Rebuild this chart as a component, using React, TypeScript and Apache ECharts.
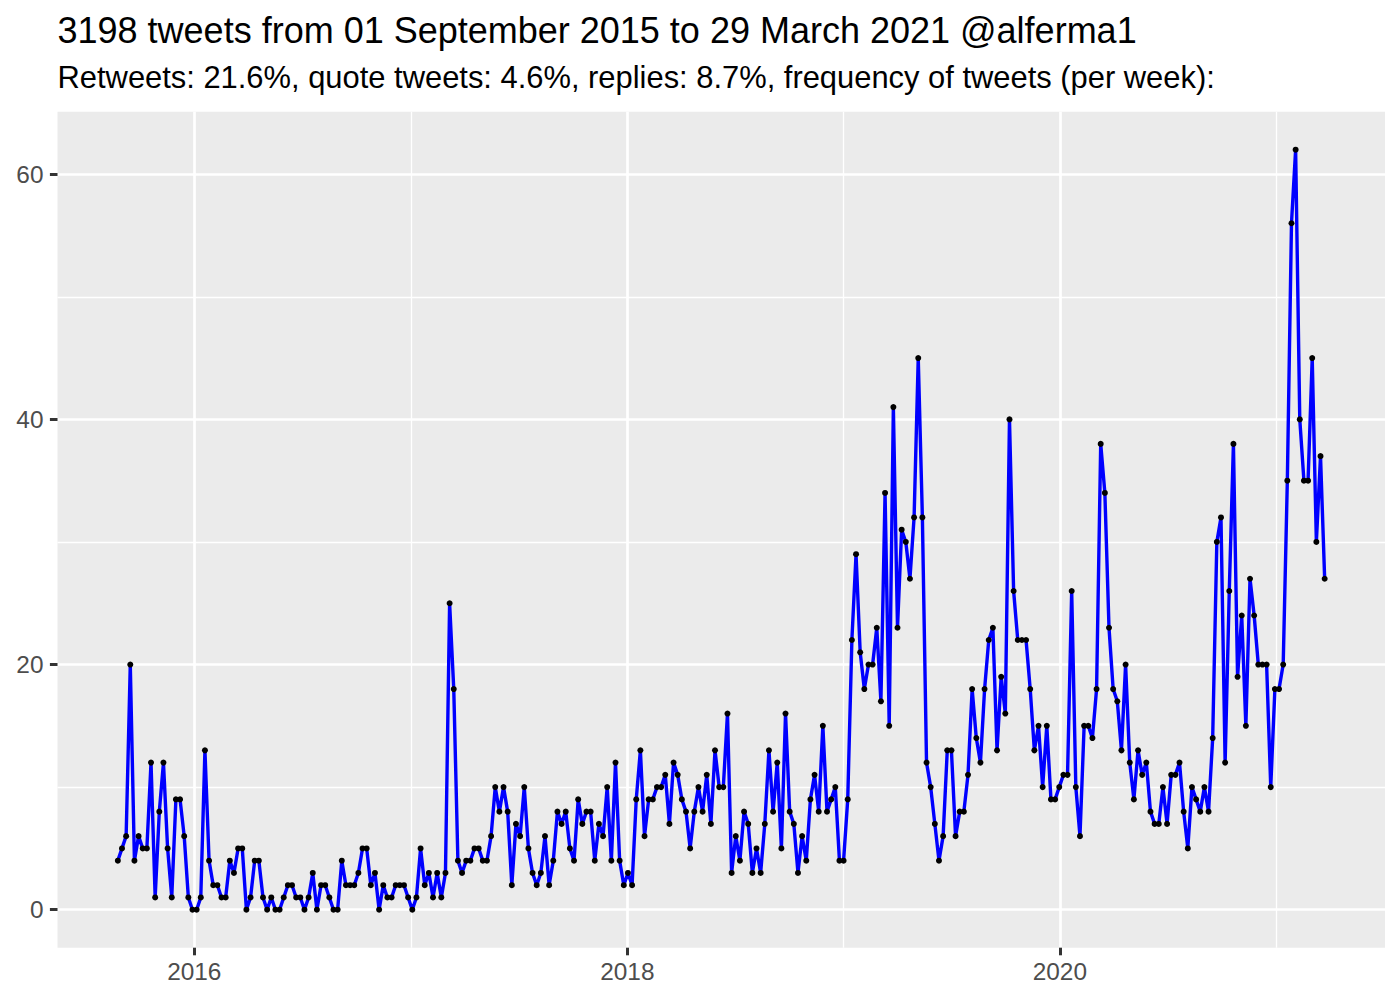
import React, { useEffect, useRef } from "react";
import * as echarts from "echarts";

// ---- data ----
const START_DATE_UTC = Date.UTC(2015, 7, 25); // first weekly bin
const WEEK_MS = 7 * 24 * 3600 * 1000;

const tweetsPerWeek: number[] = [
  4, 5, 6, 20, 4, 6, 5, 5, 12, 1,
  8, 12, 5, 1, 9, 9, 6, 1, 0, 0,
  1, 13, 4, 2, 2, 1, 1, 4, 3, 5,
  5, 0, 1, 4, 4, 1, 0, 1, 0, 0,
  1, 2, 2, 1, 1, 0, 1, 3, 0, 2,
  2, 1, 0, 0, 4, 2, 2, 2, 3, 5,
  5, 2, 3, 0, 2, 1, 1, 2, 2, 2,
  1, 0, 1, 5, 2, 3, 1, 3, 1, 3,
  25, 18, 4, 3, 4, 4, 5, 5, 4, 4,
  6, 10, 8, 10, 8, 2, 7, 6, 10, 5,
  3, 2, 3, 6, 2, 4, 8, 7, 8, 5,
  4, 9, 7, 8, 8, 4, 7, 6, 10, 4,
  12, 4, 2, 3, 2, 9, 13, 6, 9, 9,
  10, 10, 11, 7, 12, 11, 9, 8, 5, 8,
  10, 8, 11, 7, 13, 10, 10, 16, 3, 6,
  4, 8, 7, 3, 5, 3, 7, 13, 8, 12,
  5, 16, 8, 7, 3, 6, 4, 9, 11, 8,
  15, 8, 9, 10, 4, 4, 9, 22, 29, 21,
  18, 20, 20, 23, 17, 34, 15, 41, 23, 31,
  30, 27, 32, 45, 32, 12, 10, 7, 4, 6,
  13, 13, 6, 8, 8, 11, 18, 14, 12, 18,
  22, 23, 13, 19, 16, 40, 26, 22, 22, 22,
  18, 13, 15, 10, 15, 9, 9, 10, 11, 11,
  26, 10, 6, 15, 15, 14, 18, 38, 34, 23,
  18, 17, 13, 20, 12, 9, 13, 11, 12, 8,
  7, 7, 10, 7, 11, 11, 12, 8, 5, 10,
  9, 8, 10, 8, 14, 30, 32, 12, 26, 38,
  19, 24, 15, 27, 24, 20, 20, 20, 10, 18,
  18, 20, 35, 56, 62, 40, 35, 35, 45, 30,
  37, 27,
];

const xMajorYears = [2016, 2018, 2020];
const xMinorYears = [2017, 2019, 2021];
const yMajorTicks = [0, 20, 40, 60];
const yMinorTicks = [10, 30, 50];

const titleText = "3198 tweets from 01 September 2015 to 29 March 2021 @alferma1";
const subtitleText =
  "Retweets: 21.6%, quote tweets: 4.6%, replies: 8.7%, frequency of tweets (per week):";

const FONT = "'Liberation Sans', Arial, Helvetica, sans-serif";

export default function App() {
  const ref = useRef<HTMLDivElement | null>(null);

  useEffect(() => {
    if (!ref.current) return;
    const chart = echarts.init(ref.current, undefined, { renderer: "svg" });

    const points = tweetsPerWeek.map((v, i) => [START_DATE_UTC + i * WEEK_MS, v]);
    const xFirst = points[0][0] as number;
    const xLast = points[points.length - 1][0] as number;
    const xPad = (xLast - xFirst) * 0.05;
    const xMin = xFirst - xPad;
    const xMax = xLast + xPad;
    const yDataMax = Math.max(...tweetsPerWeek);
    const yDataMin = Math.min(...tweetsPerWeek);
    const yPad = (yDataMax - yDataMin) * 0.05;
    const yMin = yDataMin - yPad;
    const yMax = yDataMax + yPad;

    const majorX = xMajorYears.map((y) => Date.UTC(y, 0, 1));
    const minorX = xMinorYears.map((y) => Date.UTC(y, 0, 1));

    const option: any = {
      animation: false,
      backgroundColor: "#FFFFFF",
      textStyle: { fontFamily: FONT },
      grid: {
        left: 57.5,
        right: 15,
        top: 111.7,
        bottom: 52.3,
        show: true,
        backgroundColor: "#EBEBEB",
        borderWidth: 0,
        containLabel: false,
      },
      graphic: [
        {
          type: "text",
          x: 57.5,
          y: 30.5,
          style: {
            text: titleText,
            fill: "#000000",
            fontSize: 36,
            fontFamily: FONT,
            align: "left",
            verticalAlign: "middle",
          },
        },
        {
          type: "text",
          x: 57.5,
          y: 77.8,
          style: {
            text: subtitleText,
            fill: "#000000",
            fontSize: 30.9,
            fontFamily: FONT,
            align: "left",
            verticalAlign: "middle",
          },
        },
      ],
      xAxis: [
        {
          type: "value",
          min: xMin,
          max: xMax,
          position: "bottom",
          axisLine: { show: false, onZero: false },
          axisTick: {
            show: true,
            length: 7.6,
            customValues: majorX,
            lineStyle: { color: "#333333", width: 3 },
          },
          axisLabel: {
            show: true,
            customValues: majorX,
            formatter: (v: number) => String(new Date(v).getUTCFullYear()),
            color: "#4D4D4D",
            fontSize: 24.4,
            fontFamily: FONT,
            margin: 11.5,
          },
          splitLine: { show: true, lineStyle: { color: "#FFFFFF", width: 2.7 } },
        },
        {
          type: "value",
          min: xMin,
          max: xMax,
          position: "top",
          axisLine: { show: false, onZero: false },
          axisTick: { show: false, customValues: minorX },
          axisLabel: { show: false, customValues: minorX },
          splitLine: { show: true, lineStyle: { color: "#FFFFFF", width: 1.35 } },
        },
      ],
      yAxis: [
        {
          type: "value",
          min: yMin,
          max: yMax,
          position: "left",
          axisLine: { show: false, onZero: false },
          axisTick: {
            show: true,
            length: 7.6,
            customValues: yMajorTicks,
            lineStyle: { color: "#333333", width: 3 },
          },
          axisLabel: {
            show: true,
            customValues: yMajorTicks,
            color: "#4D4D4D",
            fontSize: 24.4,
            fontFamily: FONT,
            margin: 14,
          },
          splitLine: { show: true, lineStyle: { color: "#FFFFFF", width: 2.7 } },
        },
        {
          type: "value",
          min: yMin,
          max: yMax,
          position: "right",
          axisLine: { show: false, onZero: false },
          axisTick: { show: false, customValues: yMinorTicks },
          axisLabel: { show: false, customValues: yMinorTicks },
          splitLine: { show: true, lineStyle: { color: "#FFFFFF", width: 1.35 } },
        },
      ],
      series: [
        {
          type: "line",
          xAxisIndex: 0,
          yAxisIndex: 0,
          data: points,
          showSymbol: true,
          symbol: "circle",
          symbolSize: 6,
          itemStyle: { color: "#000000" },
          lineStyle: { color: "#0000FF", width: 3.4 },
          emphasis: { disabled: true },
          silent: true,
          z: 3,
        },
      ],
    };

    chart.setOption(option);
    return () => chart.dispose();
  }, []);

  return (
    <div
      ref={ref}
      style={{ position: "fixed", left: 0, top: 0, width: 1400, height: 1000, background: "#fff" }}
    />
  );
}
